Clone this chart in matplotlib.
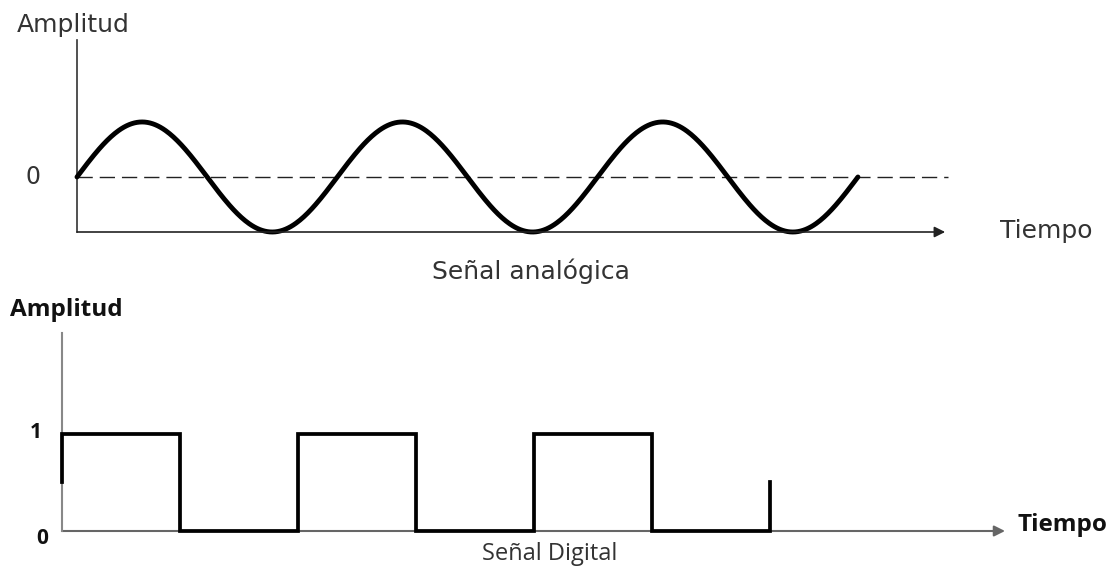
import numpy as np
import matplotlib
matplotlib.use("Agg")
import matplotlib.pyplot as plt

# ---------------- data ----------------
analog_cycles = 3          # number of full sine periods
analog_amplitude = 1.0     # peak amplitude
analog_samples = 600

digital_bits = [1, 0, 1, 0, 1, 0]   # bit levels, one per bit period
digital_start_level = 0.5           # short half-height start segment
digital_end_level = 0.5             # final half-height rise

top_labels = {"y": "Amplitud", "zero": "0", "x": "Tiempo", "title": "Señal analógica"}
bot_labels = {"y": "Amplitud", "one": "1", "zero": "0", "x": "Tiempo", "title": "Señal Digital"}

# ---------------- figure ----------------
W, H = 1120, 569
fig = plt.figure(figsize=(W / 100, H / 100), dpi=100)
fig.patch.set_facecolor("white")


def px_axes(x0, x1, y_top, y_bot):
    """axes whose box spans the given pixel rectangle (y measured from the top)."""
    return fig.add_axes([x0 / W, 1 - y_bot / H, (x1 - x0) / W, (y_bot - y_top) / H])


def ftext(x, y, s, **kw):
    fig.text(x / W, 1 - y / H, s, **kw)


# ---------------- top: analog ----------------
ax1 = px_axes(77, 948, 40, 232)
t_max = 3.346
ax1.set_xlim(0, t_max)
ax1.set_ylim(-1, 2.49)
ax1.axis("off")

t = np.linspace(0, analog_cycles, analog_samples)
ax1.plot(t, analog_amplitude * np.sin(2 * np.pi * t), color="black", lw=3.5,
         solid_capstyle="round", clip_on=False, zorder=3)
ax1.plot([0, t_max], [0, 0], color="#222222", lw=1.0, dashes=(11, 5), clip_on=False)
ax1.plot([0, 0], [-1, 2.49], color="#333333", lw=1.2, clip_on=False)
ax1.annotate("", xy=(3.335, -1), xytext=(0, -1),
             arrowprops=dict(arrowstyle="-|>", color="#222222", lw=1.2,
                             mutation_scale=16, shrinkA=0, shrinkB=0),
             annotation_clip=False)

tc = "#333333"
ftext(17, 25, top_labels["y"], ha="left", va="center", fontsize=18,
      family="DejaVu Sans", color=tc)
ftext(33, 177, top_labels["zero"], ha="center", va="center", fontsize=17,
      family="DejaVu Sans", color=tc)
ftext(1000, 231, top_labels["x"], ha="left", va="center", fontsize=18,
      family="DejaVu Sans", color=tc)
ftext(531, 271, top_labels["title"], ha="center", va="center", fontsize=18,
      family="DejaVu Sans", color=tc)

# ---------------- bottom: digital ----------------
ax2 = px_axes(62, 1005, 333, 531)
n_max = 7.99
ax2.set_xlim(0, n_max)
ax2.set_ylim(0, 2.04)
ax2.axis("off")

xs = [0]
ys = [digital_start_level]
for i, b in enumerate(digital_bits):
    xs += [i, i + 1]
    ys += [b, b]
xs += [len(digital_bits)]
ys += [digital_end_level]
ax2.plot(xs, ys, color="black", lw=2.7, solid_joinstyle="miter", clip_on=False, zorder=3)

ax2.plot([0, 0], [0, 2.04], color="#888888", lw=1.5, clip_on=False, zorder=2)
ax2.annotate("", xy=(n_max, 0), xytext=(0, 0),
             arrowprops=dict(arrowstyle="-|>", color="#666666", lw=1.5,
                             mutation_scale=16, shrinkA=0, shrinkB=0),
             annotation_clip=False, zorder=1)

bc = "#111111"
ftext(10, 310, bot_labels["y"], ha="left", va="center", fontsize=17.5,
      family="Open Sans", weight="bold", color=bc)
ftext(36, 432, bot_labels["one"], ha="center", va="center", fontsize=15,
      family="Open Sans", weight="bold", color=bc)
ftext(42, 538, bot_labels["zero"], ha="center", va="center", fontsize=15,
      family="Open Sans", weight="bold", color=bc)
ftext(1018, 525, bot_labels["x"], ha="left", va="center", fontsize=17.5,
      family="Open Sans", weight="bold", color=bc)
ftext(550, 554, bot_labels["title"], ha="center", va="center", fontsize=17,
      family="Open Sans", color="#333333")

fig.savefig("out.png", dpi=100, facecolor="white")
